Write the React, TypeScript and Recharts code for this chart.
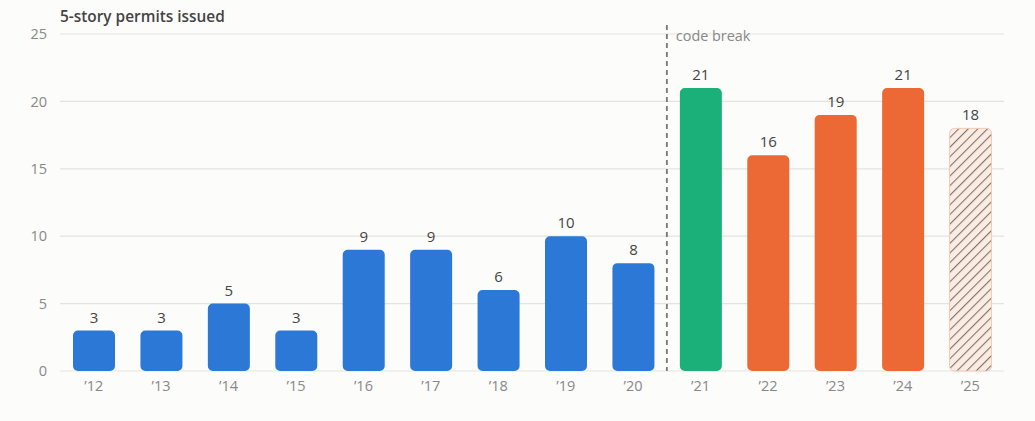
import React from 'react';
import { BarChart, Bar, XAxis, YAxis, CartesianGrid, LabelList, ReferenceLine, Cell } from 'recharts';

const years = ['’12', '’13', '’14', '’15', '’16', '’17', '’18', '’19', '’20', '’21', '’22', '’23', '’24', '’25'];
const permits = [3, 3, 5, 3, 9, 9, 6, 10, 8, 21, 16, 19, 21, 18];
// era of each year: before the code change, first year after it, later years, partial year
const era = ['old', 'old', 'old', 'old', 'old', 'old', 'old', 'old', 'old', 'first', 'new', 'new', 'new', 'partial'];
const yTicks = [0, 5, 10, 15, 20, 25];
const breakYear = '’21';

const data = years.map((year, i) => ({ year, permits: permits[i], era: era[i] }));

const eraFill: Record<string, string> = {
  old: '#2B78D6',
  first: '#1BB07A',
  new: '#EC6935',
  partial: 'url(#hatch)',
};

const FONT = '"Open Sans", "Noto Sans", sans-serif';

// line sticks out a little above the plot top, like the original
const BreakLine = (props: any) => {
  const { x1, y1, x2, y2 } = props;
  const top = Math.min(y1, y2);
  const bottom = Math.max(y1, y2);
  return (
    <line x1={x1} y1={top - 9} x2={x2} y2={bottom} stroke="#777" strokeWidth={1.8} strokeDasharray="5 4" />
  );
};

const BreakLabel = (props: any) => {
  const { viewBox } = props;
  return (
    <text x={viewBox.x + 9} y={viewBox.y + 1} fill="#888" fontSize={14.4} fontFamily={FONT} dominantBaseline="central">
      code break
    </text>
  );
};

export default function App() {
  return (
    <div style={{ position: 'absolute', left: 0, top: 0, width: 1035, height: 421, background: '#FCFCFB' }}>
      <div style={{ position: 'absolute', left: 60, top: 6, fontFamily: FONT, fontSize: 15.4, fontWeight: 600, color: '#444' }}>
        5-story permits issued
      </div>
      <BarChart width={1035} height={421} data={data} margin={{ top: 34, right: 31, left: 0, bottom: 20 }} barSize={42}>
        <defs>
          <pattern id="hatch" patternUnits="userSpaceOnUse" width={6.8} height={6.8} patternTransform="rotate(45)">
            <rect width={6.8} height={6.8} fill="#FBECE3" />
            <line x1={0} y1={0} x2={0} y2={6.8} stroke="#7F736D" strokeWidth={2.2} />
          </pattern>
        </defs>
        <CartesianGrid vertical={false} stroke="#E3E3E1" strokeWidth={1.2} />
        <XAxis
          dataKey="year"
          axisLine={false}
          tickLine={false}
          tickSize={0}
          tickMargin={10}
          height={30}
          tick={{ fill: '#888', fontSize: 14.5, fontFamily: FONT }}
        />
        <YAxis
          domain={[0, 25]}
          ticks={yTicks}
          axisLine={false}
          tickLine={false}
          tickSize={0}
          tickMargin={13}
          width={60}
          tick={{ fill: '#888', fontSize: 14.5, fontFamily: FONT }}
        />
        <ReferenceLine x={breakYear} position="start" ifOverflow="visible" shape={BreakLine} label={BreakLabel} />
        <Bar dataKey="permits" radius={5} isAnimationActive={false}>
          {data.map((d, i) => (
            <Cell
              key={i}
              fill={eraFill[d.era]}
              stroke={d.era === 'partial' ? '#F5C7B3' : 'none'}
              strokeWidth={1}
            />
          ))}
          <LabelList dataKey="permits" position="top" offset={8} fill="#444" fontSize={15} fontFamily={FONT} />
        </Bar>
      </BarChart>
    </div>
  );
}
